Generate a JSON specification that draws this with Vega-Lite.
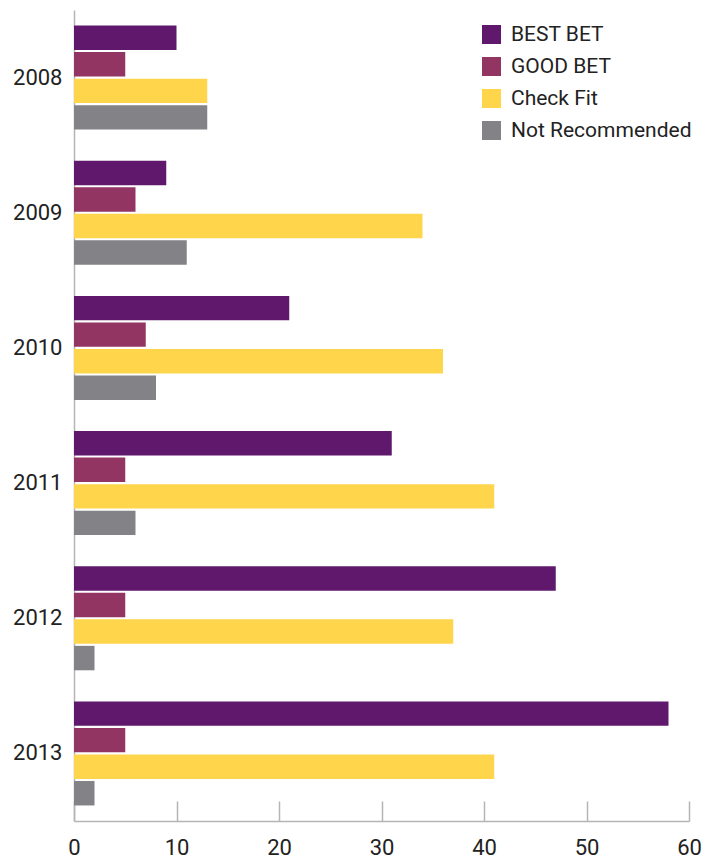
{
  "$schema": "https://vega.github.io/schema/vega-lite/v6.json",
  "autosize": "none",
  "width": 615,
  "height": 811,
  "padding": {"left": 74, "top": 10, "right": 27, "bottom": 37},
  "background": "white",
  "config": {
    "view": {"stroke": null},
    "font": "Roboto"
  },
  "data": {
    "values": [
      {"year": "2008", "series": "BEST BET", "value": 10},
      {"year": "2008", "series": "GOOD BET", "value": 5},
      {"year": "2008", "series": "Check Fit", "value": 13},
      {"year": "2008", "series": "Not Recommended", "value": 13},
      {"year": "2009", "series": "BEST BET", "value": 9},
      {"year": "2009", "series": "GOOD BET", "value": 6},
      {"year": "2009", "series": "Check Fit", "value": 34},
      {"year": "2009", "series": "Not Recommended", "value": 11},
      {"year": "2010", "series": "BEST BET", "value": 21},
      {"year": "2010", "series": "GOOD BET", "value": 7},
      {"year": "2010", "series": "Check Fit", "value": 36},
      {"year": "2010", "series": "Not Recommended", "value": 8},
      {"year": "2011", "series": "BEST BET", "value": 31},
      {"year": "2011", "series": "GOOD BET", "value": 5},
      {"year": "2011", "series": "Check Fit", "value": 41},
      {"year": "2011", "series": "Not Recommended", "value": 6},
      {"year": "2012", "series": "BEST BET", "value": 47},
      {"year": "2012", "series": "GOOD BET", "value": 5},
      {"year": "2012", "series": "Check Fit", "value": 37},
      {"year": "2012", "series": "Not Recommended", "value": 2},
      {"year": "2013", "series": "BEST BET", "value": 58},
      {"year": "2013", "series": "GOOD BET", "value": 5},
      {"year": "2013", "series": "Check Fit", "value": 41},
      {"year": "2013", "series": "Not Recommended", "value": 2}
    ]
  },
  "mark": {"type": "bar"},
  "encoding": {
    "y": {
      "field": "year", "type": "nominal",
      "scale": {"paddingInner": 0.23, "paddingOuter": 0.115},
      "axis": {
        "title": null, "ticks": false, "labelFontSize": 22, "labelColor": "#222",
        "labelPadding": 12, "domainColor": "#b5b5b5", "domainWidth": 1.5
      }
    },
    "yOffset": {
      "field": "series", "type": "nominal",
      "sort": ["BEST BET", "GOOD BET", "Check Fit", "Not Recommended"],
      "scale": {"paddingInner": 0.08, "paddingOuter": 0}
    },
    "x": {
      "field": "value", "type": "quantitative",
      "scale": {"domain": [0, 60], "nice": false},
      "axis": {
        "title": null, "grid": false, "values": [0, 10, 20, 30, 40, 50, 60],
        "tickSize": -20, "tickColor": "#b5b5b5", "tickWidth": 1.5,
        "domainColor": "#b5b5b5", "domainWidth": 1.5, "labelFlush": false,
        "labelFontSize": 22, "labelColor": "#222", "labelPadding": 36
      }
    },
    "color": {
      "field": "series", "type": "nominal",
      "sort": ["BEST BET", "GOOD BET", "Check Fit", "Not Recommended"],
      "scale": {
        "domain": ["BEST BET", "GOOD BET", "Check Fit", "Not Recommended"],
        "range": ["#5f186c", "#923563", "#ffd64b", "#838387"]
      },
      "legend": {
        "title": null, "orient": "none", "legendX": 407, "legendY": 14,
        "symbolType": "square", "symbolSize": 361, "symbolStrokeWidth": 0,
        "labelFontSize": 21, "labelColor": "#222", "rowPadding": 10,
        "labelOffset": 9, "labelLimit": 300
      }
    }
  }
}
